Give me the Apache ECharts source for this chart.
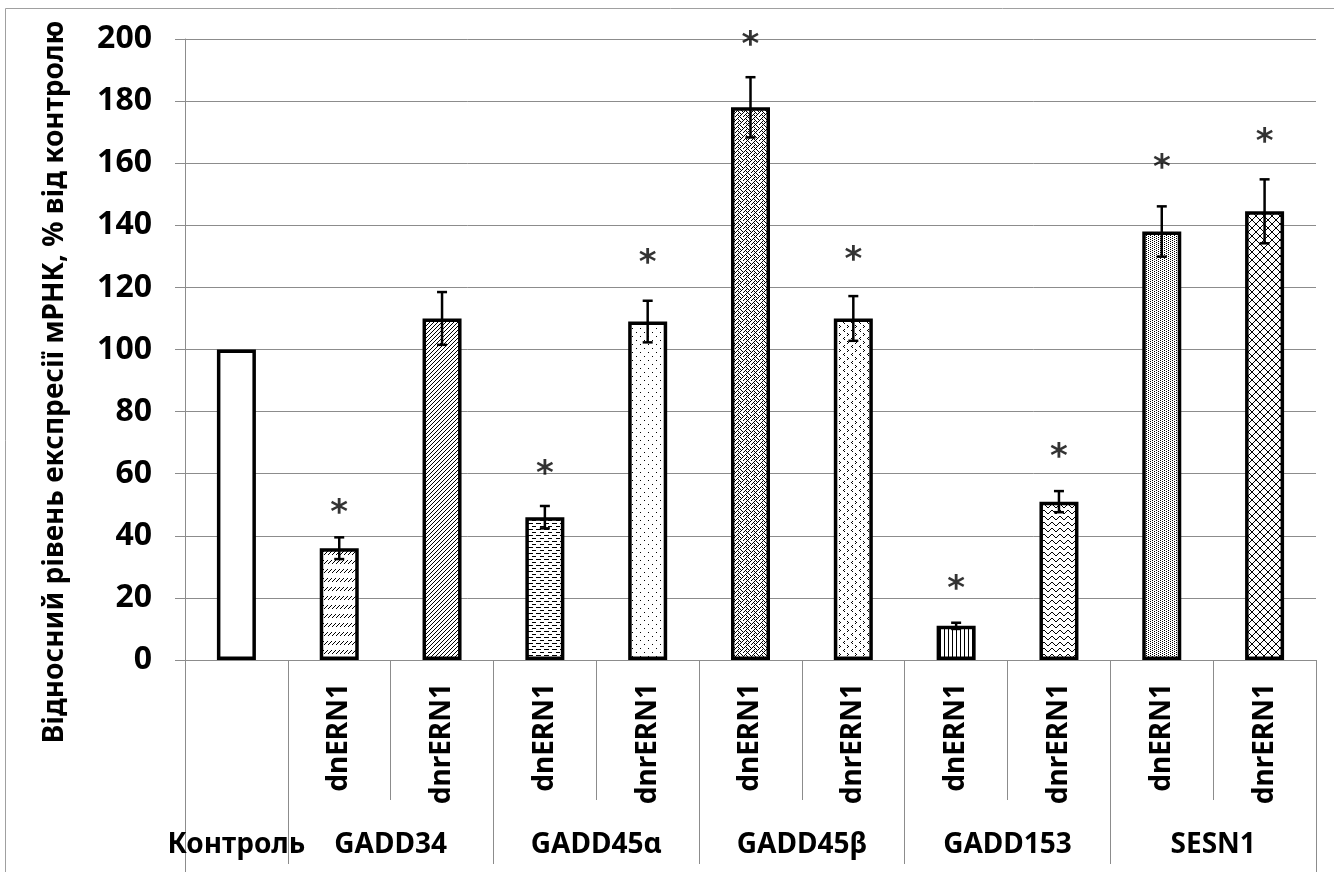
<!DOCTYPE html>
<html>
<head>
<meta charset="utf-8">
<script src="https://cdn.jsdelivr.net/npm/echarts@6/dist/echarts.min.js"></script>
<style>
  html, body { margin: 0; padding: 0; background: #fff; }
  #chart { width: 1334px; height: 872px; }
</style>
</head>
<body>
<div id="chart"></div>
<script>
// Relative mRNA expression, % of control
const barLabels = ['', 'dnERN1', 'dnrERN1', 'dnERN1', 'dnrERN1', 'dnERN1', 'dnrERN1', 'dnERN1', 'dnrERN1', 'dnERN1', 'dnrERN1'];
const groupNames = ['Контроль', 'GADD34', 'GADD45α', 'GADD45β', 'GADD153', 'SESN1'];
const groupSpans = [1, 2, 2, 2, 2, 2];
const values = [100, 36, 110, 46, 109, 178, 110, 11, 51, 138, 144.5];
const errors = [0, 3.5, 8.5, 3.6, 6.7, 9.7, 7.2, 1, 3.4, 8.1, 10.3];
const starLevels = [null, 50, null, 62.5, 130.5, 200.5, 131.5, 25.5, 68, 161, 169.5];
const yTicks = { min: 0, max: 200, step: 20 };
const yTitle = 'Відносний рівень експресії мРНК, % від контролю';

// 1-bit fill patterns, one per bar
const patternBits = [
  null, // plain white
  ['........', '........', '...#...#', '..#...#.', '.#...#..', '#...#...', '........', '........', '........'],
  ['...#', '..#.', '.#..', '#...'],
  ['........', '#####...', '........', '........', '....####', '........'],
  ['#.......', '........', '........', '........', '....#...', '........', '........', '........'],
  ['...#...#', '..#.#.#.', '.#...#..', '#.#.#...', '...#...#', '..#.#...', '.#...#..', '#.#...#.'],
  ['........', '....#...', '...#....', '....#...', '........', '.......#', '#.......', '.......#'],
  ['#...'],
  ['...##...', '..#..#..', '.#....#.', '#......#', '........', '........'],
  ['#...', '..#.'],
  ['#......#', '.#....#.', '..#..#..', '...##...', '...##...', '..#..#..', '.#....#.', '#......#']
];

function makePattern(rows) {
  const h = rows.length, w = rows[0].length;
  const c = document.createElement('canvas');
  c.width = w; c.height = h;
  const ctx = c.getContext('2d');
  ctx.fillStyle = '#fff';
  ctx.fillRect(0, 0, w, h);
  ctx.fillStyle = '#000';
  for (let y = 0; y < h; y++) {
    for (let x = 0; x < w; x++) {
      if (rows[y][x] === '#') ctx.fillRect(x, y, 1, 1);
    }
  }
  return c;
}

const barData = values.map((v, i) => ({
  value: v,
  itemStyle: {
    color: patternBits[i] ? { image: makePattern(patternBits[i]), repeat: 'repeat' } : '#fff'
  }
}));

const errData = values.map((v, i) => [i, v - errors[i], v + errors[i]]).filter((d, i) => errors[i] > 0);
const starData = starLevels.map((s, i) => [i, s]).filter(d => d[1] !== null);

// group row: half-slot positions, names placed at the middle of each group
const groupSlots = [];
const groupTickIdx = [];
(function () {
  const n = barLabels.length * 2 + 1;
  for (let k = 0; k < n; k++) groupSlots.push('');
  let start = 0;
  groupNames.forEach((name, g) => {
    const span = groupSpans[g];
    groupSlots[start * 2 + span] = name;
    start += span;
    groupTickIdx.push(start * 2);
  });
})();

const axisGray = '#8c8c8c';
const font = '"Noto Sans", "DejaVu Sans", sans-serif';

const chart = echarts.init(document.getElementById('chart'), null, { renderer: 'canvas' });
chart.setOption({
  animation: false,
  backgroundColor: '#fff',
  grid: { left: 185, right: 18, top: 39, bottom: 212 },
  graphic: [
    {
      type: 'rect', silent: true, z: -10,
      shape: { x: 5.5, y: 8.5, width: 1400, height: 900 },
      style: { fill: 'none', stroke: '#a0a0a0', lineWidth: 1 }
    },
    {
      type: 'text', x: 55, y: 382, rotation: Math.PI / 2,
      style: {
        text: yTitle, fill: '#000', font: 'bold 28px ' + font,
        textAlign: 'center', textVerticalAlign: 'middle'
      }
    }
  ],
  xAxis: [
    {
      type: 'category', data: barLabels, position: 'bottom',
      axisLine: { show: true, lineStyle: { color: axisGray, width: 1 } },
      axisTick: { show: true, length: 140, interval: 0, lineStyle: { color: axisGray } },
      axisLabel: {
        interval: 0, rotate: 90, margin: 23, color: '#000',
        fontFamily: font, fontWeight: 'bold', fontSize: 28
      }
    },
    {
      type: 'category', data: groupSlots, position: 'bottom', boundaryGap: false,
      axisLine: { show: false },
      axisTick: { show: true, length: 204, interval: (i) => groupTickIdx.includes(i), lineStyle: { color: axisGray } },
      axisLabel: {
        interval: 0, margin: 171, color: '#000',
        fontFamily: font, fontWeight: 'bold', fontSize: 28
      }
    },
    {
      type: 'category', data: ['', ''], position: 'bottom', boundaryGap: false,
      axisLine: { show: false },
      axisTick: { show: true, length: 212, interval: 0, lineStyle: { color: axisGray } },
      axisLabel: { show: false }
    }
  ],
  yAxis: {
    type: 'value', min: yTicks.min, max: yTicks.max, interval: yTicks.step,
    axisLine: { show: true, lineStyle: { color: axisGray, width: 1 } },
    axisTick: { show: true, length: 10, lineStyle: { color: axisGray } },
    splitLine: { show: true, lineStyle: { color: axisGray, width: 1 } },
    axisLabel: {
      margin: 33, color: '#000', fontFamily: font, fontWeight: 'bold', fontSize: 32
    }
  },
  series: [
    {
      type: 'bar', xAxisIndex: 0, data: barData, barWidth: 39,
      itemStyle: { borderColor: '#000', borderWidth: 3.5 },
      z: 2
    },
    {
      type: 'custom', xAxisIndex: 0, data: errData, z: 5,
      renderItem: function (params, api) {
        const x = api.value(0);
        const lo = api.coord([x, api.value(1)]);
        const hi = api.coord([x, api.value(2)]);
        const cap = 5;
        const st = { stroke: '#000', lineWidth: 2.5 };
        return {
          type: 'group',
          children: [
            { type: 'line', shape: { x1: hi[0], y1: hi[1], x2: lo[0], y2: lo[1] }, style: st },
            { type: 'line', shape: { x1: hi[0] - cap, y1: hi[1], x2: hi[0] + cap, y2: hi[1] }, style: st },
            { type: 'line', shape: { x1: lo[0] - cap, y1: lo[1], x2: lo[0] + cap, y2: lo[1] }, style: st }
          ]
        };
      }
    },
    {
      type: 'scatter', xAxisIndex: 0, data: starData, symbolSize: 1, clip: false,
      itemStyle: { color: 'rgba(0,0,0,0)' },
      label: {
        show: true, position: 'inside', formatter: '*', color: '#000',
        fontFamily: '"DejaVu Sans", sans-serif', fontWeight: 'bold', fontSize: 34, offset: [0, 9]
      },
      z: 6
    }
  ]
});
</script>
</body>
</html>
